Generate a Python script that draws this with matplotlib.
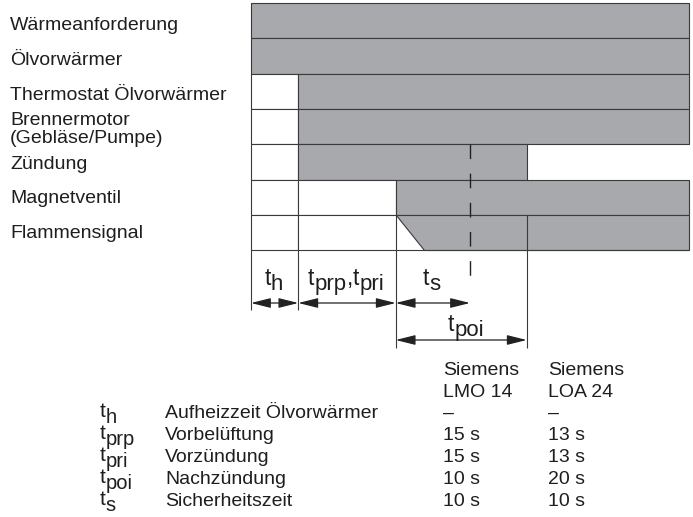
import matplotlib
matplotlib.use("Agg")
import matplotlib.pyplot as plt
from matplotlib.patches import Polygon

plt.rcParams['font.family'] = ['Liberation Sans', 'DejaVu Sans']

# ---------------- data (schematic time axis) ----------------
signal_labels = ["Wärmeanforderung", "Ölvorwärmer", "Thermostat Ölvorwärmer",
                 "Brennermotor\n(Gebläse/Pumpe)", "Zündung", "Magnetventil",
                 "Flammensignal"]
# event times on schematic time axis
event_times = [0.0, 4.73, 14.47, 21.9, 27.57, 43.8]
T0, T_HEAT, T_PRP, T_SAFE, T_POI, T_END = event_times
signal_on = [T0, T0, T_HEAT, T_HEAT, T_HEAT, T_PRP, T_PRP]
signal_off = [T_END, T_END, T_END, T_END, T_POI, T_END, T_END]
signal_rise = [0, 0, 0, 0, 0, 0, 2.86]

# labels as (text, is_subscript) pieces
dim_labels = [[("t", 0), ("h", 1)],
              [("t", 0), ("prp", 1), (",", 0), ("t", 0), ("pri", 1)],
              [("t", 0), ("s", 1)]]
dim_spans = [(T0, T_HEAT), (T_HEAT, T_PRP), (T_PRP, T_SAFE)]
poi_label = [("t", 0), ("poi", 1)]
poi_span = (T_PRP, T_POI)

table_symbols = [[("t", 0), ("h", 1)], [("t", 0), ("prp", 1)], [("t", 0), ("pri", 1)],
                 [("t", 0), ("poi", 1)], [("t", 0), ("s", 1)]]
table_desc = ["Aufheizzeit Ölvorwärmer", "Vorbelüftung", "Vorzündung",
              "Nachzündung", "Sicherheitszeit"]
table_cols = ["Siemens\nLMO 14", "Siemens\nLOA 24"]
lmo14 = ["–", "15 s", "15 s", "10 s", "10 s"]
loa24 = ["–", "13 s", "13 s", "20 s", "10 s"]

# ---------------- layout / style ----------------
W, H = 693, 517
X0_PX, PX_PER_UNIT = 251, 10.0
ROW_TOP0, ROW_H = 3.0, 35.3
GREY = "#a8a9ac"
EDGE = "#3a3a3a"
TXT = "#1e1e1e"
FS = 14

def px2t(px):
    return (px - X0_PX) / PX_PER_UNIT

fig = plt.figure(figsize=(W / 100, H / 100), dpi=100)
ax = fig.add_axes([0, 0, 1, 1])
ax.set_xlim(px2t(0), px2t(W))
ax.set_ylim(H, 0)
ax.axis("off")
renderer = fig.canvas.get_renderer()

def sub_text(x_px, y_base, pieces, fs, fs_sub, drop, ha="left"):
    widths = []
    for s, sub in pieces:
        t = ax.text(0, 0, s, fontsize=fs_sub if sub else fs)
        widths.append(t.get_window_extent(renderer).width)
        t.remove()
    total = sum(widths)
    x = x_px - (total / 2 if ha == "center" else 0)
    for (s, sub), w in zip(pieces, widths):
        ax.text(px2t(x), y_base + (drop if sub else 0), s,
                fontsize=fs_sub if sub else fs, color=TXT, ha="left", va="baseline")
        x += w

n = len(signal_labels)
label_baselines = [30, 65, 100, 143, 169, 203, 238]
for i in range(n):
    top = ROW_TOP0 + i * ROW_H
    bot = top + ROW_H
    on, off, rise = signal_on[i], signal_off[i], signal_rise[i]
    cuts = [t for t in event_times if t < on] + [on]
    for a, b in zip(cuts[:-1], cuts[1:]):
        ax.add_patch(Polygon([(a, top), (b, top), (b, bot), (a, bot)],
                             closed=True, facecolor="white", edgecolor=EDGE, lw=0.8))
    pts = [(on, top), (off, top), (off, bot), (on + rise, bot)]
    ax.add_patch(Polygon(pts, closed=True, facecolor=GREY, edgecolor=EDGE, lw=0.8))
    ax.text(px2t(10), label_baselines[i], signal_labels[i], fontsize=FS, color=TXT,
            ha="left", va="baseline", linespacing=1.05)

last_top = ROW_TOP0 + (n - 1) * ROW_H
diagram_bot = ROW_TOP0 + n * ROW_H
ax.vlines(T_POI, last_top, diagram_bot, color=EDGE, lw=0.8)
ax.hlines(diagram_bot, T_PRP, T_END, color=EDGE, lw=0.8)

ax.vlines([T0, T_HEAT], diagram_bot, 310, color=EDGE, lw=0.8)
ax.vlines([T_PRP, T_POI], diagram_bot, 348, color=EDGE, lw=0.8)
ax.vlines(T_SAFE, ROW_TOP0 + 4 * ROW_H, 282, color="#222222", lw=1.0,
          linestyles=(0, (10.5, 10.5)))

arrowstyle = "<|-|>,head_length=1.2,head_width=0.3"
def dim_arrow(a, b, y):
    ax.annotate("", xy=(b, y), xytext=(a, y),
                arrowprops=dict(arrowstyle=arrowstyle, color="#222222", lw=0.9,
                                shrinkA=0, shrinkB=0, mutation_scale=10))

FS_DIM, FS_DIM_SUB = 16.5, 16
for (a, b), lab in zip(dim_spans, dim_labels):
    dim_arrow(a, b, 303)
    sub_text(X0_PX + (a + b) / 2 * PX_PER_UNIT - 1, 285, lab, FS_DIM, FS_DIM_SUB, 5,
             ha="center")
dim_arrow(poi_span[0], poi_span[1], 340)
sub_text(466, 331, poi_label, FS_DIM, FS_DIM_SUB, 5, ha="center")

# ---------------- table ----------------
col_x = [px2t(443), px2t(548)]
for cx, head in zip(col_x, table_cols):
    for k, line in enumerate(head.split("\n")):
        ax.text(cx, 375 + 22 * k, line, fontsize=FS, color=TXT, ha="left", va="baseline")
for r in range(len(table_desc)):
    yb = 418 + 22 * r
    sub_text(100, yb - 1, table_symbols[r], 15, 14.5, 6)
    ax.text(px2t(165), yb, table_desc[r], fontsize=FS, color=TXT, ha="left", va="baseline")
    ax.text(col_x[0], yb, lmo14[r], fontsize=FS, color=TXT, ha="left", va="baseline")
    ax.text(col_x[1], yb, loa24[r], fontsize=FS, color=TXT, ha="left", va="baseline")

fig.savefig("out.png", dpi=100)
